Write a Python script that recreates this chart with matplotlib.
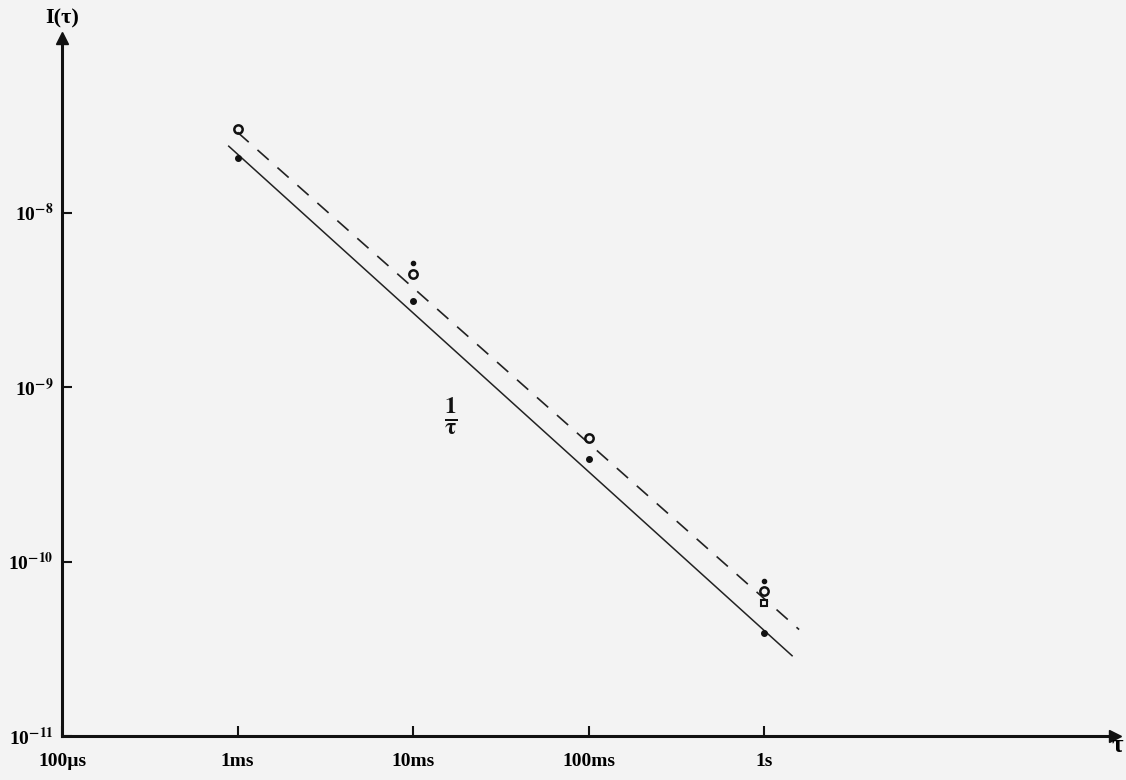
import matplotlib.pyplot as plt

plt.rcParams['font.family'] = ['Liberation Serif', 'DejaVu Serif']
plt.rcParams['font.weight'] = 'bold'
plt.rcParams['mathtext.fontset'] = 'stix'

# fitted lines (endpoints)
solid_x = [10**-3.05, 10**0.16]
solid_y = [10**-7.62, 10**-10.54]
dash_x = [10**-3.0, 10**0.2]
dash_y = [10**-7.54, 10**-10.39]

# measured points
tau = [1e-3, 1e-2, 1e-1, 1.0]
lower = [10**-7.69, 10**-8.51, 10**-9.41, 10**-10.41]
upper = [10**-7.52, 10**-8.35, 10**-9.29, 10**-10.17]
dot_x = [1e-2, 1.0]
dot_y = [10**-8.29, 10**-10.11]
sq_x = [1.0]
sq_y = [10**-10.24]

xticks = [1e-4, 1e-3, 1e-2, 1e-1, 1.0]
xlabels = ['100µs', '1ms', '10ms', '100ms', '1s']
yticks = [1e-11, 1e-10, 1e-9, 1e-8]
ylabels = ['10$^{-11}$', '10$^{-10}$', '10$^{-9}$', '10$^{-8}$']

fig = plt.figure(figsize=(11.26, 7.80), dpi=100, facecolor='#f3f3f3')
ax = fig.add_axes([62/1126, 44/780, 1053/1126, 698/780])
ax.set_facecolor('#f3f3f3')
ax.set_xscale('log')
ax.set_yscale('log')
ax.set_xlim(1e-4, 100)
ax.set_ylim(1e-11, 1e-7)

ax.plot(solid_x, solid_y, color='#222222', lw=1.1)
ax.plot(dash_x, dash_y, color='#222222', lw=1.2, dashes=(9, 7))
ax.plot(tau, lower, 'o', color='#111111', ms=4)
ax.plot(tau, upper, 'o', mfc='none', mec='#111111', mew=1.8, ms=6)
ax.plot(dot_x, dot_y, 'o', color='#111111', ms=3)
ax.plot(sq_x, sq_y, 's', mfc='none', mec='#111111', mew=1.5, ms=4)

ax.text(0.0165, 6.8e-10, r'$\frac{\mathbf{1}}{\mathbf{\tau}}$', fontsize=24,
        ha='center', va='center', color='#111111')

for s in ['top', 'right']:
    ax.spines[s].set_visible(False)
for s in ['left', 'bottom']:
    ax.spines[s].set_linewidth(2.2)
    ax.spines[s].set_color('#111111')
ax.plot(1, 0, '>', color='#111111', ms=9, transform=ax.transAxes, clip_on=False)
ax.plot(0, 1, '^', color='#111111', ms=9, transform=ax.transAxes, clip_on=False)

ax.set_xticks(xticks)
ax.set_xticklabels(xlabels, fontsize=14)
ax.set_yticks(yticks)
ax.set_yticklabels(ylabels, fontsize=14)
ax.minorticks_off()
ax.tick_params(direction='in', length=7, width=1.5, color='#111111')
ax.tick_params(axis='x', pad=12)
ax.tick_params(axis='y', pad=6)

fig.text(62/1126, 1 - 18/780, 'I(τ)', fontsize=16, ha='center', va='center')
fig.text(1117/1126, 1 - 746/780, 'τ', fontsize=18, ha='center', va='center')

fig.savefig('out.png', dpi=100, facecolor=fig.get_facecolor())
